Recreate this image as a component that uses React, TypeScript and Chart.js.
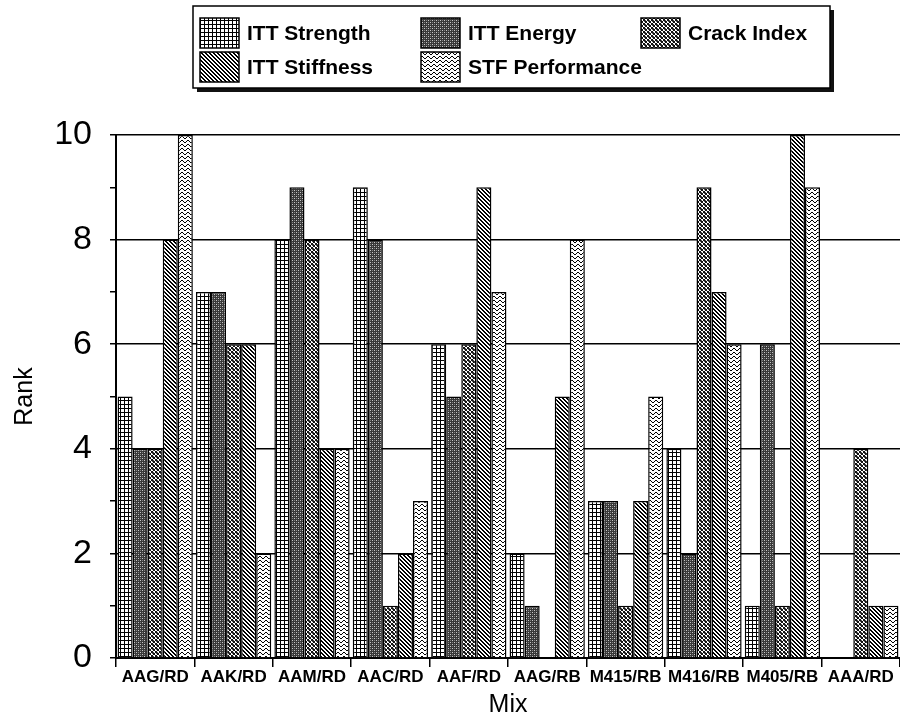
import React, { useEffect, useRef } from "react";
import { Chart, registerables } from "chart.js";

Chart.register(...registerables);

const categories = ["AAG/RD", "AAK/RD", "AAM/RD", "AAC/RD", "AAF/RD", "AAG/RB", "M415/RB", "M416/RB", "M405/RB", "AAA/RD"];
const ittStrength = [5, 7, 8, 9, 6, 2, 3, 4, 1, 0];
const ittEnergy = [4, 7, 9, 8, 5, 1, 3, 2, 6, 0];
const crackIndex = [4, 6, 8, 1, 6, 0, 1, 9, 1, 4];
const ittStiffness = [8, 6, 4, 2, 9, 5, 3, 7, 10, 1];
const stfPerformance = [10, 2, 4, 3, 7, 8, 5, 6, 9, 1];
const seriesNames = ["ITT Strength", "ITT Energy", "Crack Index", "ITT Stiffness", "STF Performance"];
const yMin = 0;
const yMax = 10;
const yLabelStep = 2;

function makePattern(w: number, h: number, draw: (g: CanvasRenderingContext2D) => void) {
  const c = document.createElement("canvas");
  c.width = w;
  c.height = h;
  const g = c.getContext("2d") as CanvasRenderingContext2D;
  draw(g);
  return g.createPattern(c, "repeat") as CanvasPattern;
}

function px(g: CanvasRenderingContext2D, pts: number[][], color = "#000") {
  g.fillStyle = color;
  pts.forEach(([x, y]) => g.fillRect(x, y, 1, 1));
}

function buildPatterns() {
  const strength = makePattern(4, 4, (g) => {
    g.fillStyle = "#fff";
    g.fillRect(0, 0, 4, 4);
    g.fillStyle = "#000";
    g.fillRect(0, 0, 4, 1);
    g.fillRect(0, 0, 1, 4);
  });
  const energy = makePattern(4, 4, (g) => {
    g.fillStyle = "#383838";
    g.fillRect(0, 0, 4, 4);
    px(g, [[0, 0], [2, 2]], "#c8c8c8");
    px(g, [[2, 0], [0, 2]], "#808080");
  });
  const crack = makePattern(4, 4, (g) => {
    g.fillStyle = "#fff";
    g.fillRect(0, 0, 4, 4);
    px(g, [[0, 0], [1, 1], [2, 2], [3, 3], [3, 0], [2, 1], [1, 2], [0, 3]], "#111");
    px(g, [[1, 0], [0, 1]], "#555");
  });
  const stiffness = makePattern(4, 4, (g) => {
    g.fillStyle = "#fff";
    g.fillRect(0, 0, 4, 4);
    const pts: number[][] = [];
    for (let y = 0; y < 4; y++) for (let x = 0; x < 4; x++) {
      const d = (((x - y) % 4) + 4) % 4;
      if (d === 0 || d === 1) pts.push([x, y]);
    }
    px(g, pts, "#000");
  });
  const stf = makePattern(6, 4, (g) => {
    g.fillStyle = "#fff";
    g.fillRect(0, 0, 6, 4);
    px(g, [[0, 1], [1, 0], [2, 0], [3, 1], [4, 2], [5, 2]], "#000");
  });
  return [strength, energy, crack, stiffness, stf];
}

const boxLegend = {
  id: "boxLegend",
  afterDraw(chart: any) {
    const ctx: CanvasRenderingContext2D = chart.ctx;
    const bx = 193, by = 6, bw = 637, bh = 82;
    ctx.save();
    ctx.fillStyle = "#111";
    ctx.fillRect(bx + 4, by + 4, bw, bh);
    ctx.fillStyle = "#fff";
    ctx.fillRect(bx, by, bw, bh);
    ctx.strokeStyle = "#000";
    ctx.lineWidth = 1.5;
    ctx.strokeRect(bx, by, bw, bh);
    const colX = [200, 421, 641];
    const rowY = [18, 52];
    const sw = 39, sh = 30;
    ctx.font = "bold 21px 'Liberation Sans', Arial, sans-serif";
    ctx.textBaseline = "middle";
    ctx.textAlign = "left";
    chart.data.datasets.forEach((ds: any, i: number) => {
      const col = i < 3 ? i : i - 3;
      const row = i < 3 ? 0 : 1;
      const x = colX[col];
      const y = rowY[row];
      ctx.fillStyle = ds.backgroundColor;
      ctx.fillRect(x, y, sw, sh);
      ctx.strokeStyle = "#000";
      ctx.lineWidth = 1.5;
      ctx.strokeRect(x, y, sw, sh);
      ctx.fillStyle = "#000";
      ctx.fillText(ds.label, x + 47, y + sh / 2 + 1);
    });
    ctx.restore();
  },
};

export default function App() {
  const ref = useRef<HTMLCanvasElement | null>(null);

  useEffect(() => {
    if (!ref.current) return;
    const patterns = buildPatterns();
    const seriesValues = [ittStrength, ittEnergy, crackIndex, ittStiffness, stfPerformance];
    const chart = new Chart(ref.current, {
      type: "bar",
      data: {
        labels: categories,
        datasets: seriesNames.map((name, i) => ({
          label: name,
          data: seriesValues[i],
          backgroundColor: patterns[i] as any,
          borderColor: "#000",
          borderWidth: 1.5,
          borderSkipped: "start",
          barPercentage: 1,
          categoryPercentage: 0.96,
        })),
      },
      options: {
        animation: false,
        responsive: false,
        maintainAspectRatio: false,
        layout: { padding: { top: 135, right: 0, bottom: 0, left: 0 } },
        plugins: {
          legend: { display: false },
          tooltip: { enabled: false },
        },
        scales: {
          x: {
            grid: {
              offset: true,
              drawOnChartArea: false,
              drawTicks: true,
              tickLength: 9,
              color: "#000",
              lineWidth: 1.5,
            },
            border: { display: true, color: "#000", width: 2 },
            ticks: {
              color: "#000",
              autoSkip: false,
              maxRotation: 0,
              padding: 0,
              font: { family: "'Liberation Sans', Arial, sans-serif", size: 17, weight: "bold" },
            },
            title: {
              display: true,
              text: "Mix",
              color: "#000",
              font: { family: "'Liberation Sans', Arial, sans-serif", size: 25 },
              padding: { top: 0, bottom: 0 },
            },
            afterFit: (scale: any) => {
              scale.height = 62;
            },
          },
          y: {
            min: yMin,
            max: yMax,
            grid: {
              color: (c: any) => (c.tick && c.tick.value % yLabelStep === 0 ? "#000" : "rgba(0,0,0,0)"),
              tickColor: "#000",
              lineWidth: 1.5,
              drawTicks: true,
              tickLength: 6,
            },
            border: { display: true, color: "#000", width: 2 },
            ticks: {
              stepSize: 1,
              color: "#000",
              padding: 18,
              callback: (v: any) => (Number(v) % yLabelStep === 0 ? String(v) : ""),
              font: { family: "'Liberation Sans', Arial, sans-serif", size: 34 },
            },
            title: {
              display: true,
              text: "Rank",
              color: "#000",
              font: { family: "'Liberation Sans', Arial, sans-serif", size: 25 },
              padding: { top: 10, bottom: 0 },
            },
            afterFit: (scale: any) => {
              scale.width = 116;
            },
          },
        },
      },
      plugins: [boxLegend],
    });
    return () => chart.destroy();
  }, []);

  return (
    <div style={{ position: "absolute", left: 0, top: 0, width: 900, height: 720, background: "#fff" }}>
      <canvas ref={ref} width={900} height={720} style={{ display: "block" }} />
    </div>
  );
}
